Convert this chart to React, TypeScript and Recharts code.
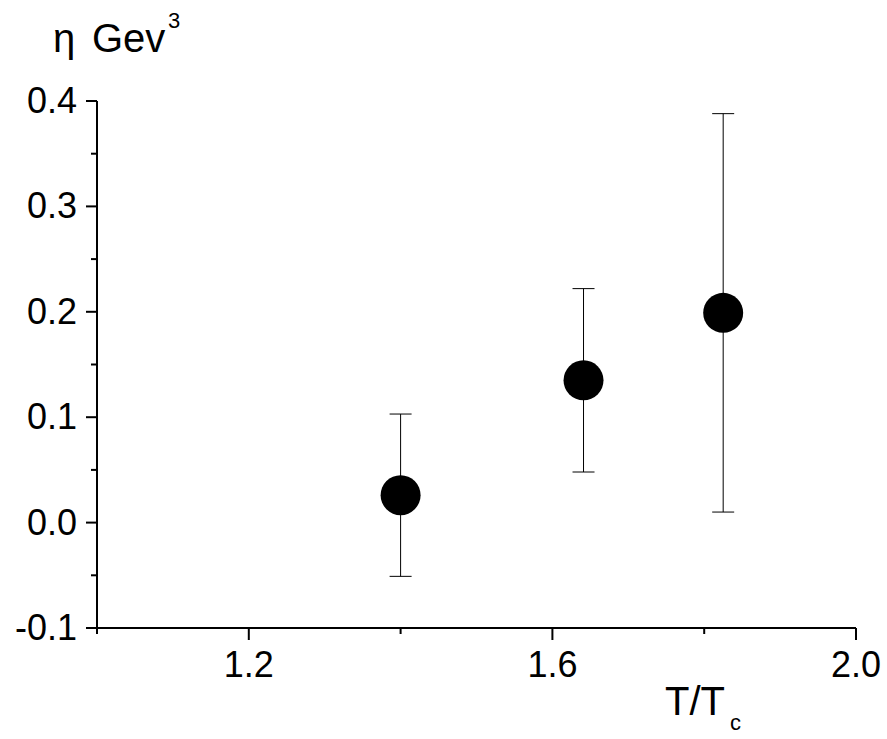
import { ScatterChart, Scatter, XAxis, YAxis, ErrorBar } from 'recharts'

// ── Data ──────────────────────────────────────────────────────────────────────

const tRatio = [1.4, 1.641, 1.825]
const eta = [0.026, 0.135, 0.199]
const etaErr = [0.077, 0.087, 0.189]

const xTicks = [1.0, 1.2, 1.4, 1.6, 1.8, 2.0]
const xLabelled = [1.2, 1.6, 2.0]
const yTicks = [-0.1, -0.05, 0, 0.05, 0.1, 0.15, 0.2, 0.25, 0.3, 0.35, 0.4]
const yLabelled = [-0.1, 0, 0.1, 0.2, 0.3, 0.4]

const data = tRatio.map((t, i) => ({ t, eta: eta[i], err: etaErr[i] }))

// ── Style ─────────────────────────────────────────────────────────────────────

const FONT = '"Liberation Sans", Arial, sans-serif'
const TICK_FONT = 36
const TITLE_FONT = 40

const isLabelled = (v: number, list: number[]) => list.some((m) => Math.abs(m - v) < 1e-9)

function XTick({ x, y, payload }: any) {
  const major = isLabelled(payload.value, xLabelled)
  return (
    <g>
      <line x1={x} x2={x} y1={y} y2={y + (major ? 12 : 6)} stroke="#000" strokeWidth={2} />
      {major && (
        <text x={x} y={y + 49} textAnchor="middle" fontSize={TICK_FONT} fontFamily={FONT} fill="#000">
          {payload.value.toFixed(1)}
        </text>
      )}
    </g>
  )
}

function YTick({ x, y, payload }: any) {
  const major = isLabelled(payload.value, yLabelled)
  return (
    <g>
      <line x1={x - (major ? 11 : 6)} x2={x} y1={y} y2={y} stroke="#000" strokeWidth={2} />
      {major && (
        <text x={x - 20} y={y + 12} textAnchor="end" fontSize={TICK_FONT} fontFamily={FONT} fill="#000">
          {payload.value.toFixed(1)}
        </text>
      )}
    </g>
  )
}

function Dot(props: any) {
  return <circle cx={props.cx} cy={props.cy} r={20} fill="#000" />
}

export default function App() {
  return (
    <div style={{ position: 'absolute', left: 0, top: 0, width: 887, height: 739, background: '#fff' }}>
      <ScatterChart width={887} height={739} margin={{ top: 101, right: 31, bottom: 0, left: 0 }}>
        <XAxis
          type="number"
          dataKey="t"
          domain={[1, 2]}
          ticks={xTicks}
          interval={0}
          height={111}
          tickSize={0}
          tickMargin={0}
          tickLine={false}
          axisLine={{ stroke: '#000', strokeWidth: 2 }}
          tick={XTick}
          allowDataOverflow
        />
        <YAxis
          type="number"
          dataKey="eta"
          domain={[-0.1, 0.4]}
          ticks={yTicks}
          interval={0}
          width={97}
          tickSize={0}
          tickMargin={0}
          tickLine={false}
          axisLine={{ stroke: '#000', strokeWidth: 2 }}
          tick={YTick}
          allowDataOverflow
        />
        <Scatter data={data} fill="#000" shape={Dot} isAnimationActive={false}>
          <ErrorBar dataKey="err" direction="y" width={11} stroke="#000" strokeWidth={1} isAnimationActive={false} />
        </Scatter>
      </ScatterChart>
      <svg width={887} height={739} style={{ position: 'absolute', left: 0, top: 0, pointerEvents: 'none' }}>
        <text fontFamily={FONT} fontSize={TITLE_FONT} fill="#000">
          <tspan x={53} y={52}>η</tspan>
          <tspan x={92} y={52}>Gev</tspan>
          <tspan x={168} y={28} fontSize={22}>3</tspan>
        </text>
        <text fontFamily={FONT} fontSize={TITLE_FONT} fill="#000">
          <tspan x={665} y={715}>T/T</tspan>
          <tspan x={730} y={730} fontSize={22}>c</tspan>
        </text>
      </svg>
    </div>
  )
}
